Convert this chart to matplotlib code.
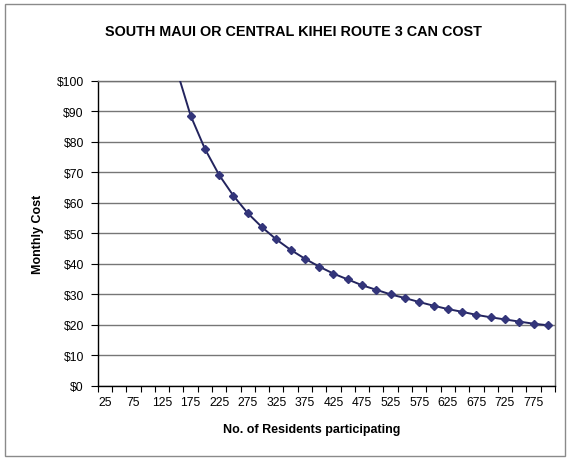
import matplotlib
matplotlib.use('Agg')
import matplotlib.pyplot as plt
from matplotlib.patches import Rectangle
from matplotlib.ticker import FixedLocator, NullFormatter

plt.rcParams['font.family'] = ['Liberation Sans', 'DejaVu Sans']

# residents participating (categories) and monthly cost per can
residents = [25, 50, 75, 100, 125, 150, 175, 200, 225, 250, 275, 300, 325, 350,
             375, 400, 425, 450, 475, 500, 525, 550, 575, 600, 625, 650, 675,
             700, 725, 750, 775, 800]
cost = [620.0, 310.0, 207.0, 155.0, 124.0, 104.0, 88.6, 77.7, 69.1, 62.3, 56.6,
        52.0, 48.0, 44.6, 41.7, 39.1, 36.8, 34.9, 33.0, 31.5, 30.0, 28.8, 27.5,
        26.3, 25.2, 24.3, 23.3, 22.5, 21.8, 21.1, 20.4, 19.9]
y_ticks = [0, 10, 20, 30, 40, 50, 60, 70, 80, 90, 100]

fig = plt.figure(figsize=(5.67, 4.60), dpi=100)
ax = fig.add_axes([0.1723, 0.1587, 0.8065, 0.6637])

idx = list(range(len(residents)))
ax.plot(idx, cost, color='#23245e', lw=1.4, marker='D', markersize=4.5,
        markerfacecolor='#33357a', markeredgecolor='#33357a', zorder=3)

ax.set_ylim(0, 100)
ax.set_xlim(-0.5, len(residents) - 0.5)

# y axis
ax.set_yticks(y_ticks)
ax.set_yticklabels([f'${v}' for v in y_ticks])
ax.yaxis.grid(True, color='#767676', lw=1.0)
ax.set_axisbelow(True)

# x axis: tick marks between categories, labels on every other category
ax.xaxis.set_major_locator(FixedLocator([i - 0.5 for i in range(len(residents) + 1)]))
ax.xaxis.set_major_formatter(NullFormatter())
lab_pos = idx[::2]
ax.xaxis.set_minor_locator(FixedLocator(lab_pos))
ax.set_xticklabels([str(residents[i]) for i in lab_pos], minor=True)
ax.tick_params(axis='x', which='major', length=4, width=0.8, direction='out')
ax.tick_params(axis='x', which='minor', length=0, pad=7, labelsize=8.7)
ax.tick_params(axis='y', length=5, width=0.8, pad=5, labelsize=8.7)

for s in ['left', 'bottom']:
    ax.spines[s].set_color('black')
    ax.spines[s].set_linewidth(1.0)
for s in ['right', 'top']:
    ax.spines[s].set_color('#707070')
    ax.spines[s].set_linewidth(1.0)

ax.set_xlabel('No. of Residents participating', fontsize=9, fontweight='bold')
ax.xaxis.set_label_coords(0.4686, -0.122)
ax.set_ylabel('Monthly Cost', fontsize=9, fontweight='bold', labelpad=9)
fig.text(0.518, 0.93, 'SOUTH MAUI OR CENTRAL KIHEI ROUTE 3 CAN COST',
         ha='center', va='center', fontsize=10.4, fontweight='bold')

# outer chart border
fig.patches.append(Rectangle((5 / 567, 3 / 460), 560 / 567, 452 / 460,
                             transform=fig.transFigure, fill=False,
                             edgecolor='#8a8a8a', lw=1.0))

fig.savefig('out.png', dpi=100)
